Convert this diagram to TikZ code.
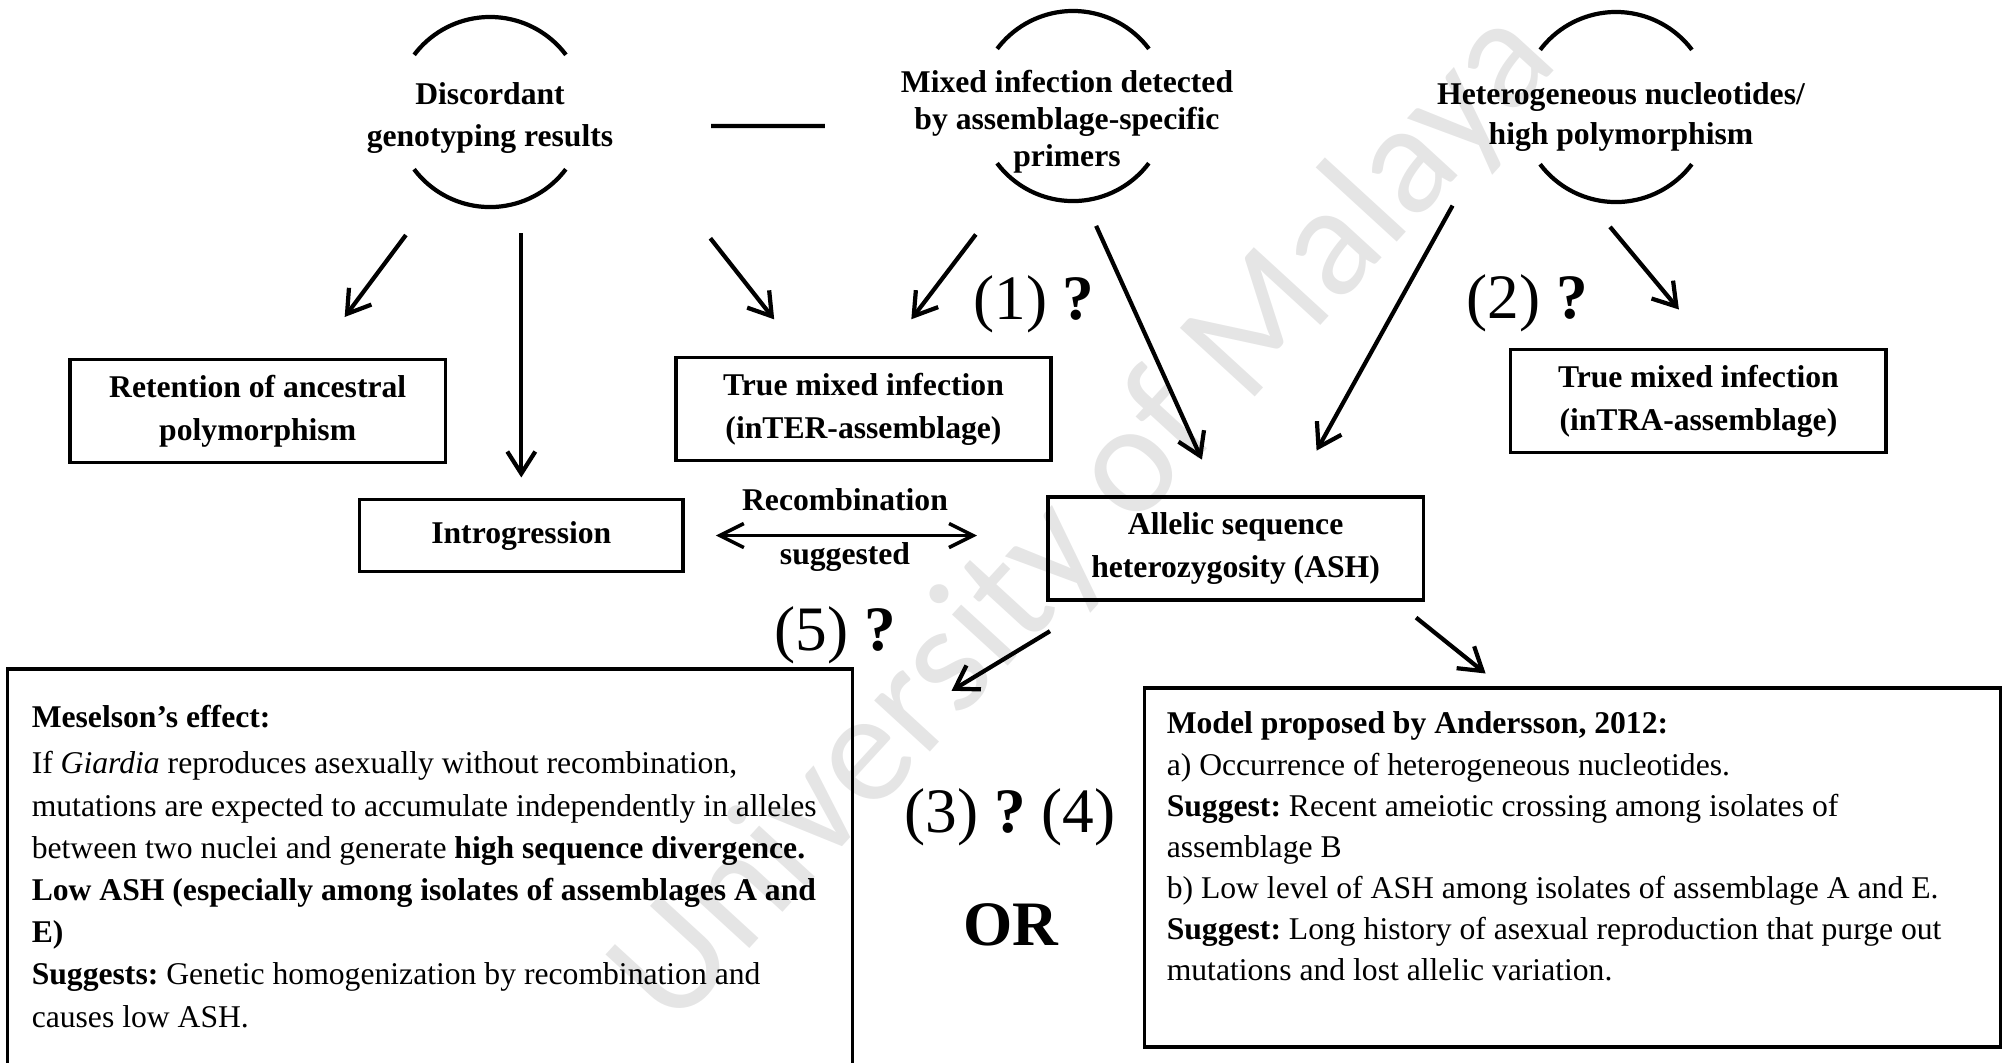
\documentclass[tikz,border=0pt]{standalone}
\usepackage{fontspec}
\setmainfont{Liberation Serif}
\newfontfamily\wmfont{Carlito}
\usetikzlibrary{arrows.meta}
\frenchspacing
\tikzset{
	every node/.style = {inner sep=0pt, outer sep=0pt},
	arr/.style = {line width=1.2pt, -{Straight Barb[length=2.2mm,width=2.8mm]}},
	box/.style = {draw, line width=0.95pt, align=center, minimum width=3.75cm, minimum height=1.03cm, font=\bfseries\fontsize{9}{12.2}\selectfont},
	panel/.style = {draw, line width=0.95pt},
	topic/.style = {circle, minimum size=1.9cm},
	halo/.style = {line width=1.2pt},
	big/.style = {font=\fontsize{18}{20}\selectfont}
}
\newcommand\halos[1]{%
	\draw[halo] (#1.37) arc[start angle=37, end angle=143, radius=95];
	\draw[halo] (#1.217) arc[start angle=217, end angle=323, radius=95];}

\begin{document}
\begin{tikzpicture}[x=0.01cm, y=0.01cm,
	ctext/.style={align=center, font=\bfseries\fontsize{9}{12.2}\selectfont},
	body/.style={align=left, anchor=north west, font=\fontsize{9}{12}\selectfont},
	wmark/.style={rotate=47.5, text=black!10, font=\wmfont\fontsize{45}{45}\selectfont},
	dbl/.style={line width=1pt, {Straight Barb[length=2.4mm,width=2.4mm]}-{Straight Barb[length=2.4mm,width=2.4mm]}}]
	\useasboundingbox (0,0) rectangle (2008,-1062);
	\node (wm) [wmark] at (1086,-519) {University of Malaya};

	\node (disc) [topic] at (490,-112) {};
	\node (mixed) [topic] at (1073,-106) {};
	\node (hetero) [topic] at (1616,-107) {};
	\node (disctxt) [ctext] at (490,-118) {Discordant\\genotyping results};
	\node (mixedtxt) [ctext, font=\bfseries\fontsize{9}{10.5}\selectfont] at (1067,-121.5) {Mixed infection detected\\by assemblage-specific\\primers};
	\node (hettxt) [ctext, font=\bfseries\fontsize{9}{11.2}\selectfont] at (1621,-117) {Heterogeneous nucleotides/\\high polymorphism};
	\halos{disc}
	\halos{mixed}
	\halos{hetero}

	\node (ret) [box] at (257.7,-411) {Retention of ancestral\\polymorphism};
	\node (inter) [box] at (863.5,-409) {True mixed infection\\(inTER-assemblage)};
	\node (intro) [box, minimum width=3.23cm, minimum height=0.72cm] at (521.3,-535.5) {Introgression};
	\node (ash) [box] at (1235.6,-548.5) {Allelic sequence\\heterozygosity (ASH)};
	\node (intra) [box] at (1698.4,-401) {True mixed infection\\(inTRA-assemblage)};
	\node (mes) [panel, minimum width=8.44cm, minimum height=4.06cm] at (430,-872) {};
	\node (model) [panel, minimum width=8.55cm, minimum height=3.59cm] at (1572.5,-867.5) {};

	\node (mestxt) [body] at ([shift={(24,-36)}]mes.north west) {\textbf{Meselson’s effect:}\\[1.3pt]
		If \textit{Giardia} reproduces asexually without recombination,\\
		mutations are expected to accumulate independently in alleles\\
		between two nuclei and generate \textbf{high sequence divergence.}\\
		\textbf{Low ASH (especially among isolates of assemblages A and}\\
		\textbf{E)}\\
		\textbf{Suggests:} Genetic homogenization by recombination and\\
		causes low ASH.};
	\node (modeltxt) [body, font=\fontsize{9}{11.7}\selectfont] at ([shift={(22,-24)}]model.north west) {\textbf{Model proposed by Andersson, 2012:}\\
		a) Occurrence of heterogeneous nucleotides.\\
		\textbf{Suggest:} Recent ameiotic crossing among isolates of\\
		assemblage B\\
		b) Low level of ASH among isolates of assemblage A and E.\\
		\textbf{Suggest:} Long history of asexual reproduction that purge out\\
		mutations and lost allelic variation.};

	\node (q1) [big] at (1034,-304.5) {(1) \textbf{?}};
	\node (q2) [big] at (1527,-303) {(2) \textbf{?}};
	\node (q5) [big] at (835.5,-635) {(5) \textbf{?}};
	\node (q34) [big] at (1010,-817) {(3) \textbf{?} (4)};
	\node (or) [big, font=\bfseries\fontsize{18}{20}\selectfont] at (1010.5,-925) {OR};

	\draw[halo, shorten <=1.26cm, shorten >=1.53cm] ([yshift=-0.14cm]disc.east) -- ([yshift=-0.2cm]mixed.west);
	\draw[arr, shorten <=5.4mm, shorten >=5.3mm] (disc.237) -- (ret.43);
	\draw[arr, shorten <=2.6mm, shorten >=2.2mm] (intro |- disc.south) -- (intro.north);
	\draw[arr, shorten <=23.5mm, shorten >=4.85mm] (disc.38) -- (inter.139);
	\draw[arr, shorten <=6.6mm, shorten >=4.8mm] (mixed.233) -- (inter.70);
	\draw[arr, shorten <=2.8mm, shorten >=4.1mm] (mixed.277) -- (ash.108);
	\draw[arr, shorten <=16.7mm, shorten >=5.3mm] (hetero.150) -- (ash.43);
	\draw[arr, shorten <=3.9mm, shorten >=5.2mm] (hetero.251) -- (intra.75);
	\draw[arr, shorten <=6mm, shorten >=11.6mm] (ash.201) -- (mes.16);
	\draw[arr, shorten <=2.8mm, shorten >=2.3mm] (ash.342) -- (model.111);
	\draw[dbl, shorten <=3.3mm, shorten >=7.1mm] (intro.east) -- node[ctext, pos=.444, yshift=0.355cm] {Recombination} node[ctext, pos=.444, yshift=-0.212cm] {suggested} (intro.east -| ash.west);
\end{tikzpicture}
\end{document}
